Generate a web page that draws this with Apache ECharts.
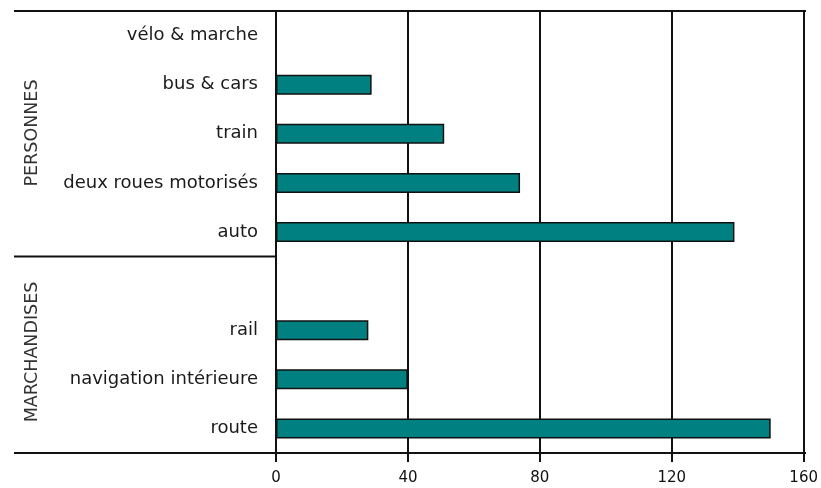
<!DOCTYPE html>
<html>
<head>
<meta charset="utf-8">
<script src="https://cdn.jsdelivr.net/npm/echarts@6/dist/echarts.min.js"></script>
<style>
html,body{margin:0;padding:0;background:#fff;}
#c{width:821px;height:488px;}
</style>
</head>
<body>
<div id="c"></div>
<script>
var categories = ['vélo & marche', 'bus & cars', 'train', 'deux roues motorisés', 'auto', '', 'rail', 'navigation intérieure', 'route'];
var values = [0, 29, 51, 74, 139, null, 28, 40, 150];
var groupLabels = ['PERSONNES', 'MARCHANDISES'];
var xTicks = [0, 40, 80, 120, 160];

var W = 821, H = 488;
var G = {left: 276, right: 15, top: 11, bottom: 35};
var plotR = W - G.right, plotB = H - G.bottom;
var lineX0 = 14;
var sepY = G.top + (plotB - G.top) * 5 / 9;
var font = 'DejaVu Sans';

var chart = echarts.init(document.getElementById('c'), null, {renderer: 'canvas'});
chart.setOption({
  animation: false,
  backgroundColor: '#fff',
  grid: {left: G.left, right: G.right, top: G.top, bottom: G.bottom, containLabel: false},
  xAxis: {
    type: 'value', min: xTicks[0], max: xTicks[xTicks.length - 1], interval: 40,
    axisLine: {show: true, lineStyle: {color: '#111', width: 2}},
    axisTick: {show: true, length: 9, lineStyle: {color: '#111', width: 2}},
    axisLabel: {margin: 18, color: '#111', fontFamily: font, fontSize: 15},
    splitLine: {show: true, lineStyle: {color: '#111', width: 2}}
  },
  yAxis: {
    type: 'category', inverse: true, data: categories,
    axisLine: {show: true, lineStyle: {color: '#111', width: 2}},
    axisTick: {show: false},
    axisLabel: {margin: 18, color: '#1a1a1a', fontFamily: font, fontSize: 18, padding: [4, 0, 0, 0]}
  },
  series: [{
    type: 'bar', data: values, barWidth: 20,
    itemStyle: {color: '#008080', borderColor: '#111', borderWidth: 1.5}
  }],
  graphic: [
    {type: 'line', shape: {x1: lineX0, y1: G.top, x2: plotR, y2: G.top}, style: {stroke: '#111', lineWidth: 2}},
    {type: 'line', shape: {x1: lineX0, y1: sepY, x2: G.left, y2: sepY}, style: {stroke: '#111', lineWidth: 2}},
    {type: 'line', shape: {x1: lineX0, y1: plotB, x2: plotR, y2: plotB}, style: {stroke: '#111', lineWidth: 2}},
    {type: 'text', x: 32, y: 133, rotation: Math.PI / 2,
     style: {text: groupLabels[0], fill: '#333', font: '17.5px ' + font, textAlign: 'center', textVerticalAlign: 'middle'}},
    {type: 'text', x: 32, y: 352, rotation: Math.PI / 2,
     style: {text: groupLabels[1], fill: '#333', font: '17.5px ' + font, textAlign: 'center', textVerticalAlign: 'middle'}}
  ]
});
</script>
</body>
</html>
